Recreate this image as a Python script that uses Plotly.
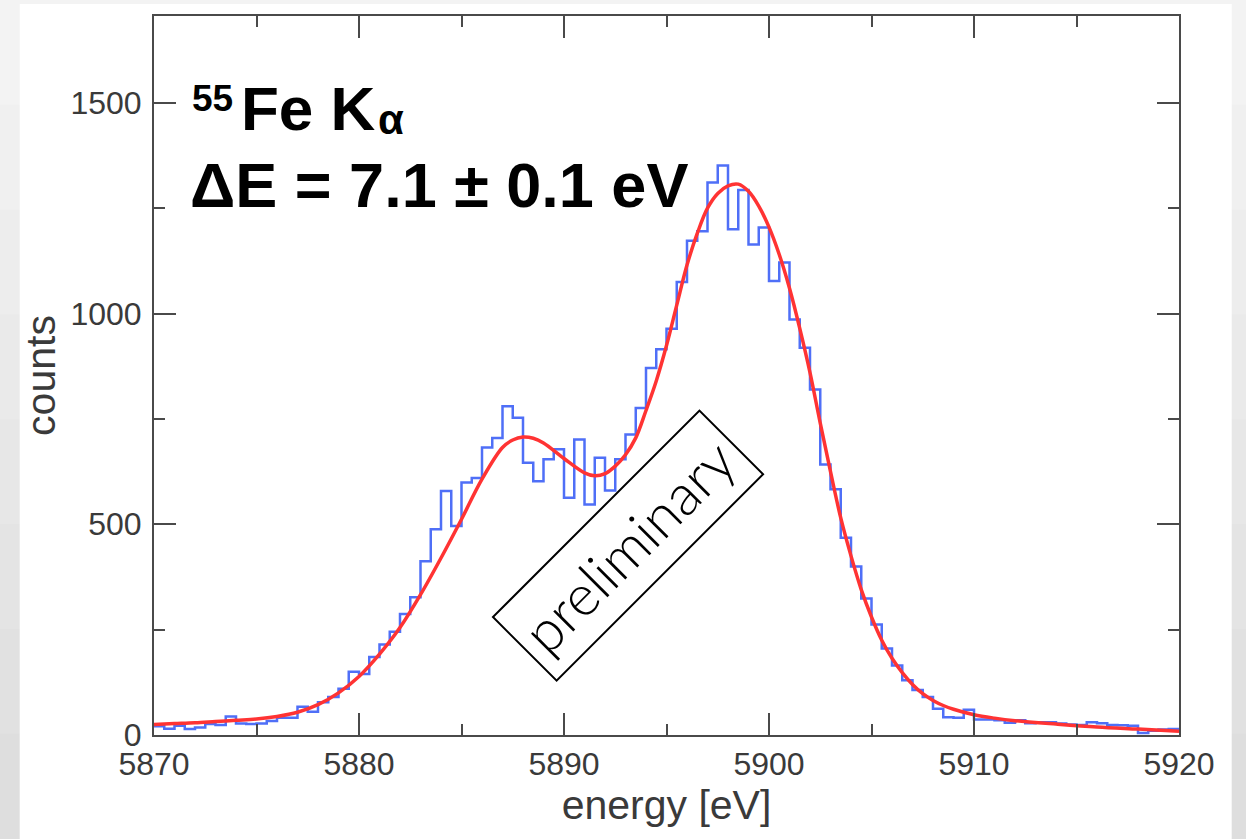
import numpy as np
import plotly.graph_objects as go

# Histogram of the 55Fe K-alpha spectrum: 0.5 eV bins from 5870 to 5920 eV
bin_start = 5870.0
bin_width = 0.5
counts = [
    21, 15, 22, 14, 18, 26, 24, 44, 27, 26,
    27, 33, 41, 41, 67, 55, 78, 90, 110, 150,
    145, 185, 215, 245, 287, 327, 412, 488, 579, 496,
    599, 610, 682, 705, 780, 753, 646, 602, 654, 678,
    563, 701, 547, 658, 580, 654, 713, 776, 871, 915,
    964, 1075, 1173, 1195, 1311, 1351, 1200, 1293, 1164, 1204,
    1077, 1121, 986, 919, 820, 642, 583, 468, 400, 324,
    262, 205, 165, 130, 107, 90, 62, 42, 41, 60,
    37, 37, 35, 29, 35, 28, 30, 30, 27, 25,
    24, 30, 28, 24, 23, 22, 5, 10, 13, 14,
]

# Fitted line shape (energy in eV, counts)
fit_energy = [5870, 5871, 5872, 5873, 5874, 5875, 5876, 5877, 5878, 5879,
              5880, 5881, 5882, 5883, 5884, 5885, 5886, 5887, 5887.5, 5888,
              5888.5, 5889, 5890, 5891, 5891.5, 5892, 5892.5, 5893, 5893.5, 5894,
              5894.5, 5895, 5895.5, 5896, 5896.5, 5897, 5897.5, 5898, 5898.5, 5899,
              5899.5, 5900, 5900.5, 5901, 5901.5, 5902, 5902.5, 5903, 5903.5, 5904,
              5904.5, 5905, 5905.5, 5906, 5906.5, 5907, 5907.5, 5908, 5908.5, 5909,
              5910, 5911, 5912, 5914, 5916, 5918, 5920]
fit_counts = [25, 27, 29, 32, 35, 38, 44, 54, 72, 100,
              139, 192, 255, 333, 420, 512, 607, 682, 700, 707,
              704, 693, 656, 622, 615, 620, 638, 665, 705, 770,
              840, 924, 1020, 1115, 1190, 1250, 1285, 1303, 1307, 1290,
              1255, 1205, 1140, 1060, 965, 860, 740, 625, 515, 425,
              345, 280, 225, 182, 148, 120, 98, 82, 70, 61,
              48, 40, 34, 26, 19, 14, 9]

x_ticks = [5870, 5880, 5890, 5900, 5910, 5920]
y_ticks = [0, 500, 1000, 1500]

edges = bin_start + bin_width * np.arange(len(counts) + 1)
step_y = counts + [counts[-1]]

fig = go.Figure()
fig.add_trace(go.Scatter(
    x=edges, y=step_y, mode="lines", line_shape="hv",
    line=dict(color="#4f6ff7", width=2.5), showlegend=False,
))
fig.add_trace(go.Scatter(
    x=fit_energy, y=fit_counts, mode="lines", line_shape="spline",
    line=dict(color="#ff3333", width=3.5), showlegend=False,
))

W, H = 1246, 839
L, R, T, B = 154.3, 1179.3, 16.0, 735.5


def px(xp):
    return (xp - L) / (R - L)


def py(yp):
    return (B - yp) / (B - T)


sans = "Liberation Sans, Arial, Helvetica, sans-serif"
axis_common = dict(
    showline=True, linecolor="#4a4a4a", linewidth=2, mirror="allticks",
    ticks="inside", ticklen=22, tickwidth=2, tickcolor="#4a4a4a",
    showgrid=False, zeroline=False,
    tickfont=dict(family=sans, size=32, color="#3a3a3a"),
    title_font=dict(family=sans, size=41, color="#3a3a3a"),
)

fig.update_xaxes(
    range=[5870, 5920], tickvals=x_ticks, ticktext=[str(v) for v in x_ticks],
    minor=dict(ticks="inside", ticklen=11, tickwidth=2, tickcolor="#4a4a4a", dtick=5, tick0=5870),
    title_text="energy [eV]", title_standoff=0,
    **axis_common,
)
fig.update_yaxes(
    range=[0, 1706], tickvals=y_ticks, ticktext=[str(v) for v in y_ticks],
    minor=dict(ticks="inside", ticklen=11, tickwidth=2, tickcolor="#4a4a4a", dtick=250, tick0=0),
    title_text="counts", title_standoff=2, ticklabelstandoff=4,
    **axis_common,
)

annotations = [
    dict(text="<b>55</b>", x=px(191), y=py(99), font=dict(family=sans, size=37, color="black")),
    dict(text="<b>Fe K</b>", x=px(240), y=py(108.5), font=dict(family=sans, size=62, color="black")),
    dict(text="<b>α</b>", x=px(377), y=py(120), font=dict(family=sans, size=42, color="black")),
    dict(text="<b>ΔE = 7.1 ± 0.1 eV</b>", x=px(189), y=py(185), font=dict(family=sans, size=63, color="black")),
]
for a in annotations:
    fig.add_annotation(xref="paper", yref="paper", xanchor="left", yanchor="middle",
                       showarrow=False, borderpad=0, **a)

fig.add_annotation(
    text="preliminary", x=5893.1, y=449, xref="x", yref="y",
    xanchor="center", yanchor="middle", showarrow=False, textangle=-45,
    font=dict(family="Lato, Helvetica Neue, Open Sans, sans-serif", size=57, color="black", weight=300),
    bordercolor="black", borderwidth=2, borderpad=6, width=278, height=76,
)

# light grey backdrop, slightly darker towards the bottom
greys = ["#f3f3f3", "#f0f0f0", "#ededed", "#eaeaea", "#e7e7e7", "#e4e4e4", "#e1e1e1", "#dedede"]
band = H / len(greys)
for i, g in enumerate(greys):
    fig.add_shape(type="rect", xref="paper", yref="paper",
                  x0=px(-5), x1=px(W + 5), y0=py((i + 1) * band + 1), y1=py(i * band),
                  fillcolor=g, line=dict(width=0), layer="below")

# white card
fig.add_shape(type="rect", xref="paper", yref="paper",
              x0=px(20), x1=px(1232), y0=py(845), y1=py(4),
              fillcolor="white", line=dict(width=0), layer="below")

fig.update_layout(
    width=W, height=H,
    margin=dict(l=L, r=W - R, t=T, b=H - B),
    paper_bgcolor="#e9e9e9", plot_bgcolor="white",
    showlegend=False,
)

fig.write_html("out.html")
